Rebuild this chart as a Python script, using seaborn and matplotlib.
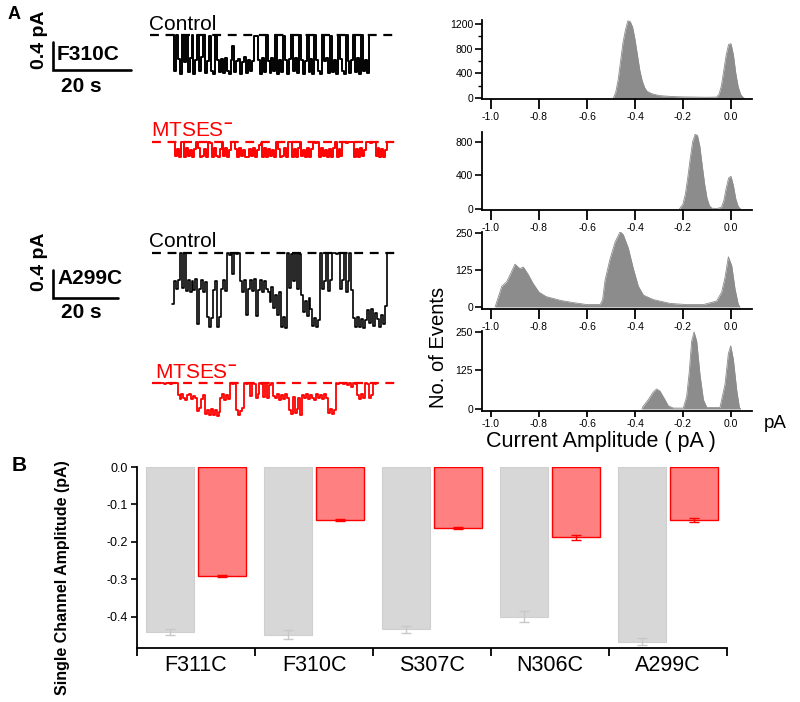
import numpy as np
import pandas as pd
import matplotlib
matplotlib.use("Agg")
import matplotlib.pyplot as plt
import seaborn as sns

# ---------------- data ----------------
# single-channel traces (pA), sampled at uniform steps
f310c_control = [0.0,
  -0.52, 0.0, -0.34, -0.55, 0.0, -0.38, -0.02, -0.53, -0.33, 0.0,
  -0.55, -0.36, 0.0, -0.51, -0.32, 0.0, -0.54, -0.37, -0.01, -0.52,
  -0.56, 0.0, -0.35, -0.53, -0.34,
  -0.54, -0.33, -0.51, -0.56, -0.36, -0.15, -0.53, -0.37, -0.34, -0.55,
  -0.38, -0.32, -0.54, -0.35, -0.52, -0.37,
  -0.02, -0.01, -0.36, -0.55, -0.33, -0.53, 0.0, -0.37, -0.54, -0.33,
  -0.52, 0.0, -0.56, -0.35, -0.53, -0.02, -0.36, -0.55, -0.34, 0.0,
  -0.52, -0.33, -0.54, 0.0, -0.36, -0.56, -0.37, -0.01, -0.53, -0.34,
  -0.55, 0.0, -0.35, -0.52, -0.56, 0.0, -0.37, -0.33, -0.54, -0.02,
  -0.53, -0.36, -0.55, 0.0, -0.34, -0.52, -0.56, 0.0, -0.37, -0.54,
  -0.35, -0.01, -0.53, -0.33, -0.55, 0.0, -0.52, -0.36, -0.54, 0.0,
  0.0]
f310c_mtses = [0.0,
  -0.20, -0.10, -0.21, 0.0, 0.0,
  -0.22, -0.09, -0.20, -0.11, -0.21, -0.10, 0.0,
  -0.09, -0.21, -0.20, -0.10, -0.22, 0.0, -0.01,
  -0.21, -0.09, -0.20, -0.22, -0.10, 0.0,
  -0.20, -0.09, -0.21, -0.11, 0.0, 0.0,
  -0.10, -0.22, -0.09, -0.20, -0.11, -0.21, -0.22, -0.10, -0.20, -0.09, -0.21, -0.11,
  -0.04, -0.02,
  -0.21, -0.09, -0.22, -0.10, -0.20, -0.11, -0.21, 0.0,
  -0.10, -0.22, -0.20, -0.09, -0.21, 0.0, 0.0,
  -0.22, -0.10, -0.21, -0.09, 0.0,
  -0.20, -0.11, -0.22, -0.09, -0.21, -0.10, 0.0, -0.01, 0.0,
  -0.21, -0.09, -0.20, -0.11, -0.22, -0.10, -0.21, -0.09, 0.0,
  -0.22, -0.10, -0.20, 0.0, 0.0, -0.01, 0.0, 0.0, 0.0,
  -0.21, -0.10, -0.22, -0.09, -0.20, -0.11, 0.0, 0.0, -0.01, 0.0, 0.0,
  -0.20, -0.09, -0.22, -0.10, -0.21, -0.11, 0.0, 0.0, 0.0]
a299c_control = [-0.73, -0.40, -0.52, -0.38, 0.0, -0.50, 0.0,
  -0.54, -0.38, -0.55, -0.40, -0.53, -0.37, -1.02, -0.52,
  -0.39, -0.55, -0.41, -0.92, -1.06, -0.93, -0.53, -0.40,
  -1.05, -0.92, -0.52, -0.38, -0.54,
  0.0, -0.03, 0.0, -0.30, 0.0, -0.02, 0.0,
  -0.40, -0.55, -0.38, -0.88, -0.52, -0.39, -0.54, -0.37, -0.90, -0.53, -0.38, -0.55, -0.40, -0.52,
  -0.55, -0.70, -0.48, -0.78, -0.60, -0.88, -0.56,
  -1.05, -0.92, -1.07,
  0.0, -0.50, -0.02, -0.40, 0.0, -0.52, -0.01,
  -0.60, -0.84, -0.68, -0.90, -0.64, -0.80,
  -1.04, -0.93, -1.06, -0.95,
  0.0, -0.52, -0.40, 0.0, -0.54, -0.38, 0.0, 0.0, -0.02, 0.0,
  -0.52, -0.39, 0.0, -0.55, -0.40, 0.0, -0.53,
  -0.93, -1.06, -0.92, -1.05, -0.94, -1.07, -0.95,
  -0.82, -1.00, -0.80, -1.04, -0.86,
  -0.94, -1.05, -0.88, -1.02, -0.75, 0.0]
a299c_mtses = [0.0, 0.0, -0.02, 0.0, 0.0, -0.01, 0.0, 0.0, 0.0,
  -0.17, -0.23, -0.16, -0.22, -0.24, -0.17, -0.15, -0.23, -0.18, -0.21,
  -0.40, -0.36, -0.23, -0.17, -0.44,
  -0.38, -0.46, -0.37, -0.45, -0.39, -0.47, -0.41,
  -0.22, -0.16, -0.24, -0.17, -0.23,
  0.0, -0.01, 0.0,
  -0.38, -0.45, -0.40, -0.36,
  0.0, -0.02, 0.0, -0.18, 0.0,
  -0.01, -0.21, -0.16, 0.0, -0.02, -0.20, 0.0, -0.22, -0.03, 0.0, -0.18,
  -0.22, -0.16, -0.24, -0.17, -0.23, -0.15, -0.21,
  -0.38, -0.44, -0.20, -0.43, -0.37, -0.22, -0.45,
  -0.17, -0.22, -0.16, -0.23, -0.17, -0.22, -0.24, -0.16, -0.21, -0.17, -0.23, -0.16, -0.22,
  -0.43, -0.37, -0.44, -0.39,
  0.0, -0.01, 0.0, 0.0, -0.02, 0.0,
  -0.03, 0.0, -0.05, 0.0, -0.02,
  -0.17, -0.23, -0.16, -0.22,
  0.0, -0.01, -0.21, -0.17, 0.0, -0.02, 0.0, 0.0]

# all-points amplitude histograms (current pA, no. of events)
h1_x = [-0.49, -0.48, -0.47, -0.46, -0.45, -0.44, -0.43, -0.42, -0.41, -0.40, -0.39, -0.38, -0.37,
        -0.36, -0.35, -0.33, -0.30, -0.25, -0.20, -0.15, -0.10, -0.06, -0.05, -0.04, -0.03, -0.02,
        -0.01, 0.0, 0.01, 0.02, 0.03, 0.04, 0.05, 0.055]
h1_y = [0, 100, 300, 600, 900, 1100, 1250, 1240, 1150, 950, 700, 450, 280,
        170, 110, 70, 40, 25, 18, 15, 12, 15, 60, 200, 450, 700,
        870, 880, 700, 400, 180, 60, 10, 0]
h2_x = [-0.215, -0.20, -0.19, -0.18, -0.17, -0.16, -0.15, -0.14, -0.13, -0.12, -0.11, -0.10, -0.09,
        -0.08, -0.06, -0.04, -0.03, -0.02, -0.01, 0.0, 0.01, 0.02, 0.03, 0.04]
h2_y = [0, 60, 180, 380, 600, 800, 890, 880, 750, 520, 300, 130, 40,
        10, 5, 20, 100, 250, 370, 390, 280, 120, 30, 0]
h3_x = [-0.983, -0.955, -0.935, -0.92, -0.90, -0.88, -0.865, -0.845, -0.825, -0.80, -0.77, -0.71,
        -0.66, -0.60, -0.545, -0.535, -0.525, -0.505, -0.483, -0.462, -0.449, -0.428, -0.407,
        -0.386, -0.365, -0.324, -0.254, -0.185, -0.115, -0.06, -0.039, -0.025, -0.011, 0.003,
        0.017, 0.03, 0.037]
h3_y = [0, 70, 85, 110, 145, 130, 135, 110, 80, 50, 35, 22,
        15, 8, 8, 25, 90, 160, 220, 255, 245, 200, 130,
        70, 40, 25, 12, 8, 8, 20, 50, 100, 170, 140,
        60, 10, 0]
h4_x = [-0.372, -0.365, -0.345, -0.324, -0.31, -0.296, -0.275, -0.261, -0.24, -0.199, -0.185,
        -0.174, -0.164, -0.154, -0.143, -0.129, -0.115, -0.101, -0.046, -0.025, -0.011, -0.001,
        0.01, 0.024, 0.035, 0.04]
h4_y = [0, 10, 30, 55, 65, 58, 30, 10, 3, 3, 40,
        120, 220, 250, 220, 110, 30, 5, 5, 80, 180, 205,
        160, 60, 5, 0]
hist_xticks = [-1.0, -0.8, -0.6, -0.4, -0.2, 0.0]
hist_xticklabels = ["-1.0", "-0.8", "-0.6", "-0.4", "-0.2", "0.0"]

# panel B
mutants = ["F311C", "F310C", "S307C", "N306C", "A299C"]
control_amp = [-0.439, -0.448, -0.433, -0.399, -0.466]
control_err = [0.008, 0.012, 0.010, 0.015, 0.010]
mtses_amp = [-0.291, -0.141, -0.163, -0.188, -0.141]
mtses_err = [0.002, 0.002, 0.002, 0.007, 0.006]
b_yticks = [0.0, -0.1, -0.2, -0.3, -0.4]
b_yticklabels = ["0.0", "-0.1", "-0.2", "-0.3", "-0.4"]

# ---------------- style ----------------
sns.set_style("ticks")
plt.rcParams["font.family"] = ["Liberation Sans", "DejaVu Sans"]
plt.rcParams["axes.unicode_minus"] = False
plt.rcParams["text.color"] = "black"
plt.rcParams["axes.labelcolor"] = "black"
plt.rcParams["xtick.color"] = "black"
plt.rcParams["ytick.color"] = "black"
plt.rcParams["mathtext.fontset"] = "custom"
plt.rcParams["mathtext.rm"] = "Liberation Sans"
plt.rcParams["mathtext.bf"] = "Liberation Sans:bold"

W, H = 800, 702
fig = plt.figure(figsize=(8, 7.02), dpi=100)

def fx(px):
    return px / W

def fy(py):
    return 1 - py / H

def axes_px(x0, y0, x1, y1):
    return fig.add_axes([fx(x0), fy(y1), (x1 - x0) / W, (y1 - y0) / H])

RED = "#ff0000"

# ---------------- panel A traces ----------------
def trace_axes(y0, y1, pxs, base_px):
    ax = axes_px(0, y0, 420, y1)
    ax.set_xlim(-172 / pxs, (420 - 172) / pxs)
    ax.set_ylim(-(y1 - base_px) / 70.0, (base_px - y0) / 70.0)
    ax.axis("off")
    return ax

def draw_trace(ax, vals, t0, dt, offset, color, dash_t, lw):
    t = t0 + dt * np.arange(len(vals))
    y = np.asarray(vals) + offset
    sns.lineplot(x=t, y=y, drawstyle="steps-post", estimator=None, sort=False,
                 color=color, lw=lw, ax=ax)
    ax.plot(dash_t, [offset, offset], color=color, lw=1.6, ls=(0, (4, 3)))

# group 1: F310C (3.9 px per s)
axA1 = trace_axes(0, 190, 3.9, 35)
draw_trace(axA1, f310c_control, 0.0, 0.5, 0.0, "black",
           [(150 - 172) / 3.9, (395 - 172) / 3.9], 1.4)
draw_trace(axA1, f310c_mtses, 0.2, 0.5, -107 / 70.0, RED,
           [(152 - 172) / 3.9, (395 - 172) / 3.9], 1.4)
tb = (53 - 172) / 3.9
axA1.plot([tb, tb, tb + 20], [-0.1, -0.5, -0.5], color="black", lw=1.9, solid_joinstyle="miter")

# group 2: A299C (3.25 px per s)
axA2 = trace_axes(190, 430, 3.25, 253)
draw_trace(axA2, a299c_control, 0.0, 0.6, 0.0, "black",
           [(152 - 172) / 3.25, (395 - 172) / 3.25], 1.2)
draw_trace(axA2, a299c_mtses, (160 - 172) / 3.25, 0.6, -130 / 70.0, RED,
           [(152 - 172) / 3.25, (395 - 172) / 3.25], 1.3)
tb2 = (53 - 172) / 3.25
axA2.plot([tb2, tb2, tb2 + 20], [-0.243, -0.643, -0.643], color="black", lw=1.9,
          solid_joinstyle="miter")

fig.text(fx(8), fy(6), "A", fontsize=13, fontweight="bold", va="top", ha="left")
for yc, name, ys in [(40, "F310C", 55), (262, "A299C", 278)]:
    fig.text(fx(39), fy(yc), "0.4 pA", rotation=90, fontsize=14, fontweight="bold",
             ha="center", va="center")
    fig.text(fx(57), fy(ys), name, fontsize=15, fontweight="bold", ha="left", va="center")
fig.text(fx(81), fy(86), "20 s", fontsize=15, fontweight="bold", ha="center", va="center")
fig.text(fx(81), fy(312), "20 s", fontsize=15, fontweight="bold", ha="center", va="center")
fig.text(fx(149), fy(30), "Control", fontsize=15, ha="left", va="baseline")
fig.text(fx(149), fy(247), "Control", fontsize=15, ha="left", va="baseline")
fig.text(fx(151), fy(137), r"MTSES$^{\mathbf{-}}$", fontsize=15, color=RED, ha="left", va="baseline")
fig.text(fx(155), fy(379), r"MTSES$^{\mathbf{-}}$", fontsize=15, color=RED, ha="left", va="baseline")

# ---------------- histograms ----------------
GREY = "#8c8c8c"
hist_specs = [
    (h1_x, h1_y, 20, 99, (-16, 1265), [0, 400, 800, 1200], [200, 600, 1000], 7),
    (h2_x, h2_y, 132, 210, (-12, 919), [0, 400, 800], [], 7),
    (h3_x, h3_y, 232, 309, (-7, 254), [0, 125, 250], [], 7),
    (h4_x, h4_y, 331, 411, (-6.5, 253), [0, 125, 250], [], 4.5),
]
for hx, hy, top, bot, ylim, yt, ymt, tlen in hist_specs:
    ax = axes_px(482, top, 752, bot)
    ax.patch.set_alpha(0)
    ax.fill_between(hx, hy, 0, color=GREY, lw=0)
    sns.lineplot(x=hx, y=hy, estimator=None, sort=False, color=GREY, lw=0.6, ax=ax)
    ax.set_xlim(-1.0375, 0.0875)
    ax.set_ylim(*ylim)
    ax.set_xticks(hist_xticks)
    ax.set_xticklabels(hist_xticklabels)
    ax.set_yticks(yt)
    ax.set_yticklabels([str(v) for v in yt])
    if ymt:
        ax.set_yticks(ymt, minor=True)
    ax.set_xlabel("")
    ax.set_ylabel("")
    for s in ["top", "right"]:
        ax.spines[s].set_visible(False)
    for s in ["left", "bottom"]:
        ax.spines[s].set_linewidth(1.3)
        ax.spines[s].set_color("black")
    ax.tick_params(axis="x", direction="out", length=tlen, width=1.3, labelsize=7.5,
                   pad=2.5 if tlen > 5 else 1.5, colors="black")
    ax.tick_params(axis="y", which="major", direction="out", length=5, width=1.2,
                   labelsize=7.5, pad=1.5, colors="black")
    ax.tick_params(axis="y", which="minor", direction="out", length=3, width=1.0, colors="black")

fig.text(fx(438), fy(347), "No. of Events", rotation=90, fontsize=14.5, ha="center", va="center")
fig.text(fx(601), fy(441), "Current Amplitude ( pA )", fontsize=15.5, ha="center", va="center")
fig.text(fx(775), fy(423), "pA", fontsize=13.5, ha="center", va="center")

# ---------------- panel B ----------------
df = pd.DataFrame({
    "mutant": mutants * 2,
    "condition": ["Control"] * len(mutants) + ["MTSES"] * len(mutants),
    "amp": control_amp + mtses_amp,
    "err": control_err + mtses_err,
})
axB = axes_px(137, 467, 727, 648)
sns.barplot(data=df, x="mutant", y="amp", hue="condition", order=mutants,
            hue_order=["Control", "MTSES"], palette={"Control": "#d7d7d7", "MTSES": "#ff8080"},
            width=0.88, gap=0.09, errorbar=None, legend=False, saturation=1, ax=axB)
bars = list(axB.patches)
for i, p in enumerate(bars):
    if i < len(mutants):
        p.set_edgecolor("#cfcfcf")
        p.set_linewidth(0.8)
        ecol, val, err = "#c8c8c8", control_amp[i], control_err[i]
    else:
        j = i - len(mutants)
        p.set_edgecolor(RED)
        p.set_linewidth(1.0)
        ecol, val, err = RED, mtses_amp[j], mtses_err[j]
    xc = p.get_x() + p.get_width() / 2
    axB.errorbar([xc], [val], yerr=[err], color=ecol, capsize=3.5, lw=1.0, capthick=1.0,
                 zorder=3)
axB.set_xlim(-0.5, 4.5)
axB.set_ylim(-0.483, 0.0)
axB.set_yticks(b_yticks)
axB.set_yticklabels(b_yticklabels)
axB.set_xticks(range(len(mutants)))
axB.set_xticklabels(mutants)
axB.set_xticks(np.arange(-0.5, len(mutants), 1.0), minor=True)
axB.set_xlabel("")
axB.set_ylabel("")
for s in ["top", "right"]:
    axB.spines[s].set_visible(False)
for s in ["left", "bottom"]:
    axB.spines[s].set_linewidth(1.3)
    axB.spines[s].set_color("black")
axB.tick_params(axis="x", which="major", length=0, labelsize=15.5, pad=5, colors="black")
axB.tick_params(axis="x", which="minor", direction="out", length=6, width=1.3, colors="black")
axB.tick_params(axis="y", direction="out", length=4.5, width=1.2, labelsize=9, pad=2,
                colors="black")

fig.text(fx(12), fy(456), "B", fontsize=15, fontweight="bold", va="top", ha="left")
fig.text(fx(62), fy(578), "Single Channel Amplitude (pA)", rotation=90, fontsize=11.5,
         fontweight="bold", ha="center", va="center")

fig.savefig("out.png", dpi=100)
